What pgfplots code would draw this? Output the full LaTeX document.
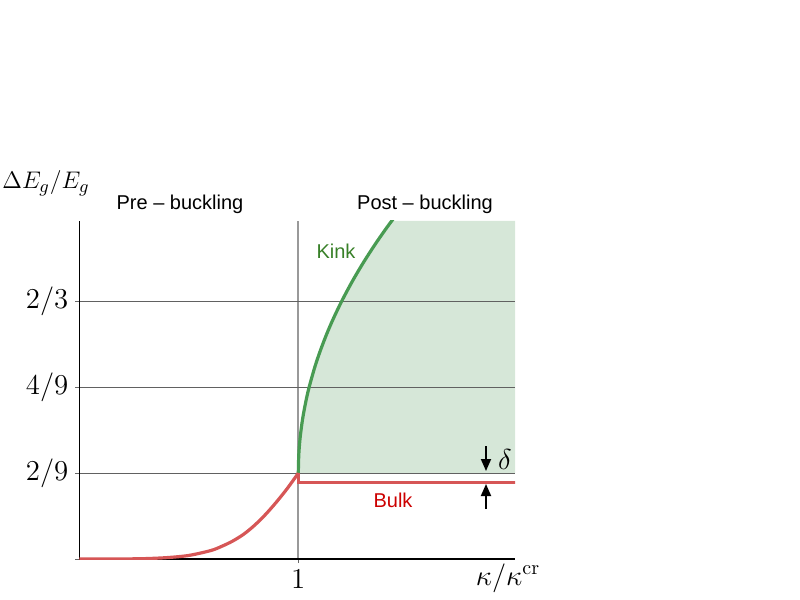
\documentclass[border=0pt]{standalone}
\usepackage[no-math]{fontspec}
\setmainfont{Liberation Sans}
\usepackage{pgfplots}
\pgfplotsset{compat=1.18}
\usetikzlibrary{arrows.meta}
\definecolor{fillgreen}{RGB}{214,231,216}
\definecolor{kinkline}{RGB}{72,155,82}
\definecolor{bulkline}{RGB}{214,86,86}
\definecolor{kinktext}{RGB}{56,128,40}
\definecolor{bulktext}{RGB}{204,0,0}
\begin{document}
\begin{tikzpicture}
\begin{axis}[
  set layers,
  at={(39.65pt,-279.5pt)}, anchor=south west,
  scale only axis, width=217.9pt, height=169pt,
  xmin=0, xmax=1.99, ymin=0, ymax=0.875,
  axis x line*=bottom, axis y line*=left,
  axis line style={-, black, line width=0.6pt},
  xtick={1}, xticklabels={$1$},
  ytick={0,0.2222,0.4444,0.6667}, yticklabels={,$2/9$,$4/9$,$2/3$},
  tick align=outside, major tick length=2pt,
  major tick style={black!60, line width=0.5pt},
  xmajorgrids, ymajorgrids,
  x grid style={black!40, line width=0.8pt},
  y grid style={black!62, line width=0.5pt},
  tick label style={font=\fontsize{14}{16}\selectfont},
]
% shaded region above the bulk gap
\addplot[draw=none, fill=fillgreen, on layer=axis background] coordinates {
 (1,0.2222) (1.002,0.2669) (1.005,0.2929) (1.01,0.3222) (1.02,0.3636)
 (1.035,0.4093) (1.05,0.4458) (1.075,0.4961) (1.1,0.5384) (1.13,0.5828)
 (1.16,0.6222) (1.2,0.6694) (1.25,0.7222) (1.3,0.7699) (1.35,0.8138)
 (1.4,0.8547) (1.426,0.875) (1.99,0.875) (1.99,0.2222)} -- cycle;
% kink
\addplot[kinkline, line width=1.6pt, smooth] coordinates {
 (1,0.2222) (1.002,0.2669) (1.005,0.2929) (1.01,0.3222) (1.02,0.3636)
 (1.035,0.4093) (1.05,0.4458) (1.075,0.4961) (1.1,0.5384) (1.13,0.5828)
 (1.16,0.6222) (1.2,0.6694) (1.25,0.7222) (1.3,0.7699) (1.35,0.8138)
 (1.4,0.8547) (1.45,0.8930)};
% bulk
\addplot[bulkline, line width=1.6pt, smooth] coordinates {
 (0,0) (0.1,0.00001) (0.2,0.00016) (0.3,0.00098) (0.4,0.0036) (0.5,0.0092)
 (0.6,0.0218) (0.65,0.0327) (0.7,0.0463) (0.75,0.0639) (0.8,0.0871)
 (0.85,0.1151) (0.9,0.1473) (0.95,0.1828) (1,0.2222)};
\addplot[bulkline, line width=1.6pt] coordinates {(1,0.2222) (1,0.198) (2.1,0.198)};
\end{axis}
\begin{scope}[x=0.5pt, y=-0.5pt]
\node at (46,183) {\fontsize{13}{15}\selectfont $\Delta E_g/E_g$};
\node at (508,578) {\fontsize{14}{16}\selectfont $\kappa/\kappa^{\mathrm{cr}}$};
\node at (180,204) {Pre -- buckling};
\node at (425,204) {Post -- buckling};
\node[text=kinktext] at (336,251) {Kink};
\node[text=bulktext] at (393,500) {Bulk};
\node at (505,459) {\fontsize{14}{16}\selectfont $\delta$};
\draw[-{Triangle[length=6pt,width=5pt]}, line width=0.9pt] (486,446) -- (486,471);
\draw[-{Triangle[length=6pt,width=5pt]}, line width=0.9pt] (486,509) -- (486,484);
\end{scope}
\pgfresetboundingbox
\path[use as bounding box] (0,0) rectangle (400pt,-300pt);
\end{tikzpicture}
\end{document}
